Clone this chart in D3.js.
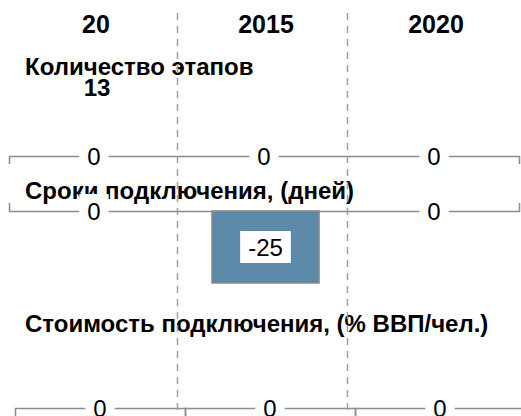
<!DOCTYPE html>
<html>
<head>
<meta charset="utf-8">
<script src="https://cdn.jsdelivr.net/npm/d3@7"></script>
<style>
  html, body { margin: 0; padding: 0; background: #fff; }
  svg { display: block; font-family: "Liberation Sans", Arial, Helvetica, sans-serif; }
  .domain { stroke: #8c8c8c; stroke-width: 1.5; fill: none; }
</style>
</head>
<body>
<svg id="chart" width="521" height="416"></svg>
<script>
// Years shown as columns
const years = ["20", "2015", "2020"];
// Indicator titles
const titles = ["Количество этапов", "Сроки подключения, (дней)", "Стоимость подключения, (% ВВП/чел.)"];
// Base number of procedures
const stepsBase = [13];
// Changes per year for each indicator
const stepsChange = [0, 0, 0];
const daysChange = [0, -25, 0];
const costChange = [0, 0, 0];

const svg = d3.select("#chart");
const x = d3.scaleBand().domain(years).range([9, 519]);

const row1Y = 156, row2Y = 211, row3Y = 408;
// vertical scale for change bars below the days baseline
const yDays = d3.scaleLinear().domain([0, -25]).range([row2Y, 283]);

const gLines = svg.append("g");
const gBars = svg.append("g");
const gText = svg.append("g");
const gLabels = svg.append("g");
const gGrid = svg.append("g");

// baselines
gLines.append("g").attr("transform", `translate(0,${row1Y})`)
  .call(d3.axisBottom(x).tickValues([]).tickSizeOuter(8));
gLines.append("g").attr("transform", `translate(0,${row2Y})`)
  .call(d3.axisTop(x).tickValues([]).tickSizeOuter(8));
years.forEach(yr => {
  const s = d3.scaleLinear().range([x(yr) + 6, x(yr) + x.bandwidth() + 6]);
  gLines.append("g").attr("transform", `translate(0,${row3Y})`)
    .call(d3.axisBottom(s).tickValues([]).tickSizeOuter(8));
});
gLines.selectAll(".domain").attr("stroke", "#8c8c8c").attr("stroke-width", 1.5);

// headers
gText.selectAll("text.hdr").data(years).join("text")
  .attr("class", "hdr")
  .attr("x", d => x(d) + x.bandwidth() / 2 + 2)
  .attr("y", 33)
  .attr("text-anchor", "middle")
  .attr("font-size", 25).attr("font-weight", "bold")
  .text(d => d);

// indicator titles
const titleY = [75, 199, 332];
gText.selectAll("text.ttl").data(titles).join("text")
  .attr("class", "ttl")
  .attr("x", 25)
  .attr("y", (d, i) => titleY[i])
  .attr("font-size", 24).attr("font-weight", "bold")
  .text(d => d);

gText.append("text")
  .attr("x", x(years[0]) + x.bandwidth() / 2 + 3)
  .attr("y", 96)
  .attr("text-anchor", "middle")
  .attr("font-size", 24).attr("font-weight", "bold")
  .text(stepsBase[0]);

// bars for the days indicator
const barW = x.bandwidth() * 0.63;
gBars.selectAll("rect").data(years.map((d, i) => ({ year: d, v: daysChange[i] })).filter(d => d.v !== 0))
  .join("rect")
  .attr("x", d => x(d.year) + (x.bandwidth() - barW) / 2 + 1.5)
  .attr("width", barW)
  .attr("y", d => Math.min(yDays(0), yDays(d.v)))
  .attr("height", d => Math.abs(yDays(d.v) - yDays(0)))
  .attr("fill", "#5c89a7")
  .attr("stroke", "#8a8a8a").attr("stroke-width", 1.5);

// value label with white box
function label(cx, cy, txt, h) {
  const g = gLabels.append("g");
  const t = g.append("text")
    .attr("x", cx).attr("y", cy)
    .attr("text-anchor", "middle").attr("dominant-baseline", "central")
    .attr("font-size", 24).attr("fill", "#000")
    .text(txt);
  const w = t.node().getComputedTextLength() + 16;
  g.insert("rect", "text")
    .attr("x", cx - w / 2).attr("y", cy - h / 2)
    .attr("width", w).attr("height", h)
    .attr("fill", "#fff");
}

years.forEach((yr, i) => {
  const cx = x(yr) + x.bandwidth() / 2;
  label(cx, row1Y, stepsChange[i], 34);
  if (daysChange[i] === 0) label(cx, row2Y, daysChange[i], 34);
  else label(cx + 1.5, (yDays(0) + yDays(daysChange[i])) / 2, daysChange[i], 32);
  label(cx + 6, row3Y, costChange[i], 34);
});

// dashed column separators
gGrid.selectAll("line").data(years.slice(1)).join("line")
  .attr("x1", d => x(d) - 1.5).attr("x2", d => x(d) - 1.5)
  .attr("y1", 13).attr("y2", 416)
  .attr("stroke", "#a0a0a0").attr("stroke-width", 1.5)
  .attr("stroke-dasharray", "7,6");
</script>
</body>
</html>
